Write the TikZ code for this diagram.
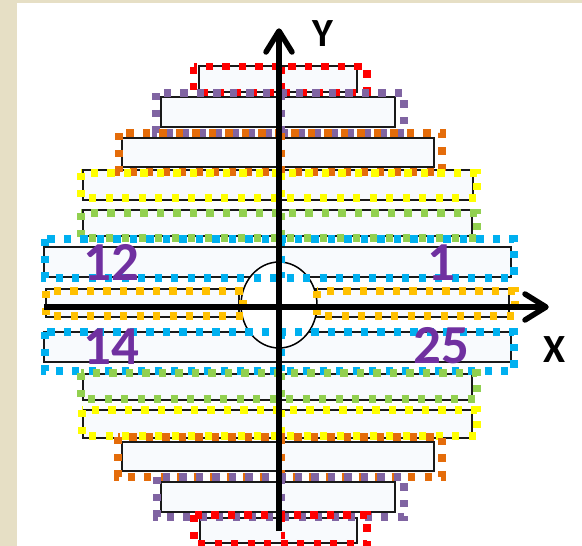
\documentclass[tikz,border=0pt]{standalone}
\usepackage{fontspec}
\newfontfamily\calib{Carlito}
\definecolor{cRed}{HTML}{FF0000}
\definecolor{cPurple}{HTML}{8064A2}
\definecolor{cOrange}{HTML}{E46C0A}
\definecolor{cYellow}{HTML}{FFFF00}
\definecolor{cGreen}{HTML}{92D050}
\definecolor{cBlue}{HTML}{00B0F0}
\definecolor{cAmber}{HTML}{FFC000}
\definecolor{numPurple}{HTML}{7030A0}
\definecolor{barFill}{HTML}{F8FAFD}
\definecolor{beige}{HTML}{E6DFC5}
\begin{document}
\begin{tikzpicture}[x=1pt,y=-1pt,
  bar/.style={draw=black!90, line width=1.8pt, fill=barFill},
  dots/.style={line width=7.2pt, dash pattern=on 7.2pt off 9.3pt},
  middots/.style={line width=3.5pt, dash pattern=on 7.2pt off 9.3pt},
  axisline/.style={line width=6pt},
  axishead/.style={line width=5.5pt, line cap=round, line join=round},
  num/.style={text=numPurple, font=\calib\bfseries\fontsize{55}{55}\selectfont, inner sep=0pt, anchor=base},
  lab/.style={font=\calib\bfseries\fontsize{40}{40}\selectfont, inner sep=0pt, anchor=base}]
% background
\fill[white] (0,0) rectangle (582,546);
\fill[beige] (0,0) rectangle (17,546);
\fill[beige] (0,0) rectangle (582,2.5);
\useasboundingbox (0,0) rectangle (582,546);
% black bars
\draw[bar] (199,66) rectangle (357,92);
\draw[bar] (161,97) rectangle (395,127);
\draw[bar] (122,138) rectangle (434,167);
\draw[bar] (83,170) rectangle (473,200);
\draw[bar] (83,210) rectangle (472,236);
\draw[bar] (44,247) rectangle (511,277);
\draw[bar] (46,289) rectangle (239,317);
\draw[bar] (316,289) rectangle (509,317);
\draw[bar] (44,332) rectangle (511,362);
\draw[bar] (83,374) rectangle (472,400);
\draw[bar] (83,410) rectangle (472,438);
\draw[bar] (122,442) rectangle (434,471);
\draw[bar] (161,482) rectangle (395,512);
\draw[bar] (200,518) rectangle (357,543);
% central hole
\draw[line width=1.5pt, fill=white] (279,305) ellipse [x radius=38, y radius=43];
% dotted outlines
\draw[dots, cRed] (193.5,66.5) rectangle (367,92.5);
\draw[middots, cRed] (283,66.5) -- (283,92.5);
\draw[dots, cPurple] (156,93) rectangle (404,133);
\draw[middots, cPurple] (283,93) -- (283,133);
\draw[dots, cOrange] (119,133) rectangle (442,172);
\draw[middots, cOrange] (283,133) -- (283,172);
\draw[dots, cYellow] (81,173) rectangle (477,198);
\draw[middots, cYellow] (283,173) -- (283,198);
\draw[dots, cGreen] (81,213) rectangle (477,238);
\draw[middots, cGreen] (283,213) -- (283,238);
\draw[dots, cBlue] (45,239) rectangle (514,278);
\draw[middots, cBlue] (283,239) -- (283,278);
\draw[dots, cAmber] (46,291) rectangle (243,316);
\draw[dots, cAmber] (317,291) rectangle (515,316);
\draw[dots, cBlue] (45,332) rectangle (514,371);
\draw[middots, cBlue] (283,332) -- (283,371);
\draw[dots, cGreen] (81,373) rectangle (477,399);
\draw[middots, cGreen] (283,373) -- (283,399);
\draw[dots, cYellow] (82,410) rectangle (477,436);
\draw[middots, cYellow] (283,410) -- (283,436);
\draw[dots, cOrange] (118,437) rectangle (442,477);
\draw[middots, cOrange] (283,437) -- (283,477);
\draw[dots, cPurple] (157,477) rectangle (404,517);
\draw[middots, cPurple] (283,477) -- (283,517);
\draw[dots, cRed] (194,515) rectangle (367,544);
\draw[middots, cRed] (283,515) -- (283,544);
% axes
\coordinate (ybot) at (279,531);
\coordinate (ytop) at (279,32);
\coordinate (ytip) at (279,31);
\coordinate (yl) at (266,52);
\coordinate (yr) at (292,52);
\coordinate (xleft) at (44,307);
\coordinate (xright) at (545,307);
\coordinate (xtip) at (546,307);
\coordinate (xu) at (525,294);
\coordinate (xd) at (525,320);
\draw[axisline] (ybot) -- (ytop);
\draw[axishead] (yl) -- (ytip) -- (yr);
\draw[axisline] (xleft) -- (xright);
\draw[axishead] (xu) -- (xtip) -- (xd);
% labels
\node[lab] (Ylab) at (323,46) {Y};
\node[lab] (Xlab) at (555,362) {X};
\node[num] (n12) at (111,280) {12};
\node[num] (n1) at (441,280) {1};
\node[num] (n14) at (111,364) {14};
\node[num] (n25) at (441,363) {25};
\end{tikzpicture}
\end{document}
